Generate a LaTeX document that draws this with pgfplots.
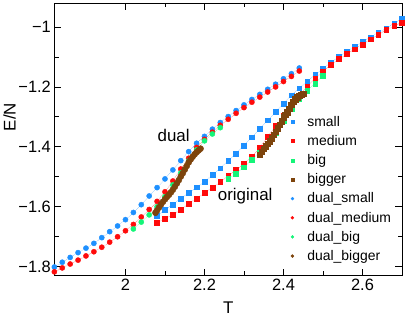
\documentclass[border=0pt]{standalone}
\usepackage{fontspec}
\setmainfont{Liberation Sans}
\usepackage{pgfplots}
\usepackage{pgfplotstable}
\pgfplotsset{compat=1.18}
\definecolor{cblue}{RGB}{30,144,255}
\definecolor{cred}{RGB}{255,10,10}
\definecolor{cgreen}{RGB}{20,245,120}
\definecolor{cbrown}{RGB}{125,68,12}

\pgfplotstableread{
T E
2.08 -1.630
2.10 -1.611
2.12 -1.592
2.14 -1.572
2.16 -1.553
2.18 -1.535
2.20 -1.517
2.22 -1.494
2.24 -1.471
2.26 -1.447
2.28 -1.422
2.30 -1.396
2.32 -1.368
2.34 -1.340
2.36 -1.311
2.38 -1.283
2.40 -1.255
2.42 -1.228
2.44 -1.204
2.46 -1.182
2.48 -1.160
2.50 -1.139
2.52 -1.119
2.54 -1.100
2.56 -1.083
2.58 -1.066
2.60 -1.050
2.62 -1.034
2.64 -1.019
2.66 -1.004
2.68 -0.988
2.70 -0.972
}\tsmall
\pgfplotstableread{
T E
2.08 -1.652
2.10 -1.640
2.12 -1.627
2.14 -1.609
2.16 -1.590
2.18 -1.572
2.20 -1.554
2.22 -1.536
2.24 -1.517
2.26 -1.497
2.28 -1.477
2.30 -1.456
2.32 -1.433
2.34 -1.403
2.36 -1.366
2.38 -1.330
2.40 -1.295
2.42 -1.262
2.44 -1.230
2.46 -1.198
2.48 -1.172
2.50 -1.148
2.52 -1.126
2.54 -1.107
2.56 -1.090
2.58 -1.074
2.60 -1.058
2.62 -1.041
2.64 -1.025
2.66 -1.010
2.68 -0.997
2.70 -0.985
}\tmedium
\pgfplotstableread{
T E
2.26 -1.507
2.28 -1.490
2.30 -1.468
2.32 -1.442
2.34 -1.418
2.36 -1.388
2.38 -1.352
2.40 -1.312
2.42 -1.272
2.44 -1.240
2.46 -1.212
2.48 -1.188
2.50 -1.163
}\tbig
\pgfplotstableread{
T E
2.340 -1.426
2.345 -1.416
2.350 -1.406
2.355 -1.398
2.360 -1.390
2.365 -1.381
2.370 -1.371
2.375 -1.360
2.380 -1.349
2.385 -1.338
2.390 -1.326
2.395 -1.314
2.400 -1.302
2.405 -1.293
2.410 -1.284
2.415 -1.272
2.420 -1.259
2.425 -1.249
2.430 -1.241
2.435 -1.235
2.440 -1.230
2.445 -1.226
2.450 -1.222
}\tbigger
\pgfplotstableread{
T E
1.82 -1.801
1.84 -1.785
1.86 -1.769
1.88 -1.753
1.90 -1.738
1.92 -1.722
1.94 -1.703
1.96 -1.683
1.98 -1.664
2.00 -1.643
2.02 -1.619
2.04 -1.593
2.06 -1.564
2.08 -1.536
2.10 -1.507
2.12 -1.477
2.14 -1.446
2.16 -1.416
2.18 -1.388
2.20 -1.365
2.22 -1.341
2.24 -1.319
2.26 -1.299
2.28 -1.279
2.30 -1.260
2.32 -1.242
2.34 -1.225
2.36 -1.208
2.38 -1.191
2.40 -1.173
2.42 -1.156
2.44 -1.137
}\tdsmall
\pgfplotstableread{
T E
1.82 -1.817
1.84 -1.804
1.86 -1.791
1.88 -1.778
1.90 -1.764
1.92 -1.750
1.94 -1.735
1.96 -1.718
1.98 -1.700
2.00 -1.680
2.02 -1.659
2.04 -1.634
2.06 -1.609
2.08 -1.582
2.10 -1.550
2.12 -1.514
2.14 -1.474
2.16 -1.438
2.18 -1.402
2.20 -1.375
2.22 -1.351
2.24 -1.328
2.26 -1.308
2.28 -1.288
2.30 -1.269
2.32 -1.251
2.34 -1.234
2.36 -1.217
2.38 -1.200
2.40 -1.182
2.42 -1.165
2.44 -1.147
}\tdmedium
\pgfplotstableread{
T E
2.02 -1.674
2.04 -1.651
2.06 -1.627
2.08 -1.600
2.10 -1.566
2.12 -1.527
2.14 -1.487
2.16 -1.447
2.18 -1.410
2.20 -1.380
2.22 -1.357
2.24 -1.336
}\tdbig
\pgfplotstableread{
T E
2.076 -1.620
2.080 -1.612
2.085 -1.602
2.090 -1.592
2.095 -1.583
2.100 -1.575
2.105 -1.567
2.110 -1.560
2.115 -1.552
2.120 -1.543
2.125 -1.533
2.130 -1.522
2.135 -1.511
2.140 -1.499
2.145 -1.488
2.150 -1.476
2.155 -1.464
2.160 -1.452
2.165 -1.442
2.170 -1.433
2.175 -1.425
2.180 -1.418
2.185 -1.412
2.190 -1.406
}\tdbigger

\begin{document}
\begin{tikzpicture}
\begin{axis}[
  scale only axis, width=348bp, height=273bp,
  xmin=1.82, xmax=2.70, ymin=-1.83, ymax=-0.92,
  xtick={2,2.2,2.4,2.6}, xticklabels={2,2.2,2.4,2.6},
  ytick={-1.8,-1.6,-1.4,-1.2,-1}, yticklabels={−1.8,−1.6,−1.4,−1.2,−1},
  minor x tick num=1, minor y tick num=1,
  tick align=inside, major tick length=7bp, minor tick length=4.5bp,
  tick style={line width=0.8pt, black},
  axis line style={line width=1pt},
  ticklabel style={font=\fontsize{16.5}{18}\selectfont},
  label style={font=\fontsize{17}{19}\selectfont},
  xlabel={T}, ylabel={E/N},
  xlabel style={at={(axis description cs:0.5,-0.117)}, anchor=center},
  ylabel style={at={(axis description cs:-0.129,0.582)}, anchor=center},
  legend cell align=left,
  legend style={draw=none, fill=none, at={(axis description cs:0.667,0.593)}, anchor=north west,
    font=\fontsize{14}{16}\selectfont, row sep=3.6pt, inner sep=0pt},
  legend image code/.code={\path[draw=none,fill=none] (0bp,0bp) -- (19bp,0bp);
    \draw[#1, solid, mark size=1.5pt] plot[only marks] coordinates {(6bp,0bp)};},
  every axis plot/.append style={densely dotted, line width=0.4pt},
]
\addplot[color=cblue, mark=square*, mark size=2.4pt, mark options={solid, fill=cblue}] table[x=T,y=E] {\tsmall};
\addlegendentry{small}
\addplot[color=cred, mark=square*, mark size=2.4pt, mark options={solid, fill=cred}] table[x=T,y=E] {\tmedium};
\addlegendentry{medium}
\addplot[color=cgreen, mark=square*, mark size=2.4pt, mark options={solid, fill=cgreen}] table[x=T,y=E] {\tbig};
\addlegendentry{big}
\addplot[color=cbrown, mark=square*, mark size=2.8pt, mark options={solid, fill=cbrown}] table[x=T,y=E] {\tbigger};
\addlegendentry{bigger}
\addplot[color=cblue, mark=*, mark size=2.6pt, mark options={solid, fill=cblue}] table[x=T,y=E] {\tdsmall};
\addlegendentry{dual\_small}
\addplot[color=cred, mark=*, mark size=2.6pt, mark options={solid, fill=cred}] table[x=T,y=E] {\tdmedium};
\addlegendentry{dual\_medium}
\addplot[color=cgreen, mark=*, mark size=2.6pt, mark options={solid, fill=cgreen}] table[x=T,y=E] {\tdbig};
\addlegendentry{dual\_big}
\addplot[color=cbrown, mark=*, mark size=3.1pt, mark options={solid, fill=cbrown}] table[x=T,y=E] {\tdbigger};
\addlegendentry{dual\_bigger}
\node[font=\fontsize{17}{19}\selectfont] at (axis cs:2.122,-1.363) {dual};
\node[font=\fontsize{17}{19}\selectfont] at (axis cs:2.303,-1.565) {original};
\end{axis}
\path (-54bp,-43bp) rectangle (355bp,276bp);
\end{tikzpicture}
\end{document}
